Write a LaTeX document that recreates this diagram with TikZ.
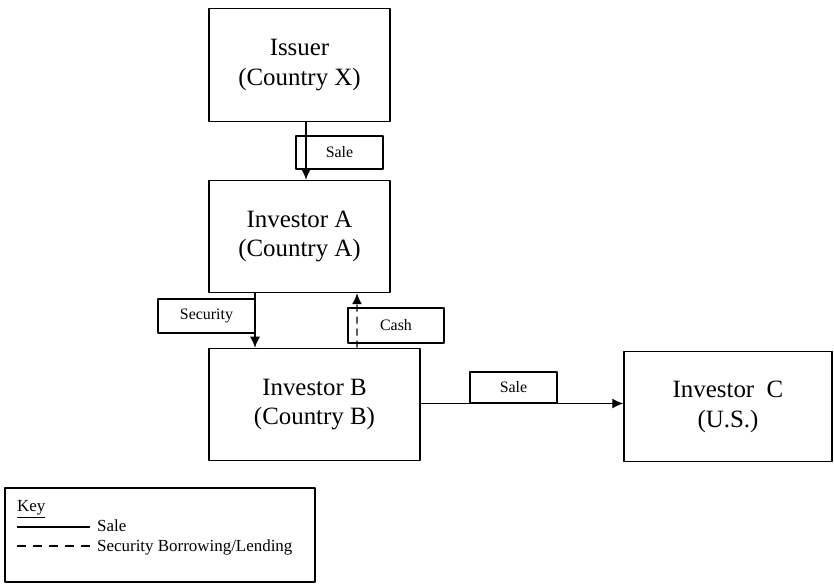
\documentclass[tikz,border=0pt]{standalone}
\usepackage{fontspec}
\setmainfont{Liberation Serif}
\usetikzlibrary{positioning,arrows.meta}

\begin{document}
\begin{tikzpicture}[>={Latex[length=11bp,width=10bp]},line join=bevel,
  party/.style={draw,line width=1.5bp,align=center,font=\fontsize{25}{30}\selectfont,inner sep=0pt},
  flowtag/.style={draw,line width=1.5bp,font=\fontsize{16}{18}\selectfont,inner sep=0pt},
  flow/.style={black,line width=1.3bp,->}]
\useasboundingbox (0bp,0bp) rectangle (834bp,586bp);
%%
\node (issuer) at (299.5bp,521bp) [party,minimum width=181bp,minimum height=113bp] {Issuer\\(Country X)};
  \node (inv_a) at (299.5bp,349.5bp) [party,minimum width=181bp,minimum height=112bp] {Investor A\\(Country A)};
  \node (inv_b) at (314.5bp,181.5bp) [party,minimum width=211bp,minimum height=112bp] {Investor B\\(Country B)};
  \node (inv_c) at (728bp,179.5bp) [party,minimum width=208bp,minimum height=110bp] {Investor\ \ C\\(U.S.)};
  \node (tag_sale1) at (339.5bp,433.5bp) [flowtag,minimum width=87bp,minimum height=33bp] {Sale};
  \node (tag_sec) at (206.5bp,270bp) [flowtag,minimum width=97bp,minimum height=34bp] {Security};
  \node (tag_cash) at (396bp,260.5bp) [flowtag,minimum width=96bp,minimum height=35bp] {Cash};
  \node (tag_sale2) at (513.5bp,198.5bp) [flowtag,minimum width=87bp,minimum height=31bp] {Sale};
  \draw [flow] ([xshift=6.5bp]issuer.south) -- ([xshift=6.5bp]inv_a.north);
  \draw [flow] ([xshift=-44.5bp]inv_a.south) -- ([xshift=-59.5bp]inv_b.north);
  \draw [flow,dash pattern=on 7bp off 5bp] ([xshift=42.5bp]inv_b.north) -- ([xshift=57.5bp]inv_a.south);
  \draw [flow] ([yshift=1bp]inv_b.east) -- ([yshift=3bp]inv_c.west);
%% key
\node (key) at (160bp,51bp) [draw,line width=1.5bp,minimum width=310bp,minimum height=94bp] {};
  \node (key_title) at (17bp,74bp) [anchor=base west,inner sep=0pt,font=\fontsize{17}{19}\selectfont] {\underline{Key}};
  \coordinate (key_s1) at (17bp,59bp);
  \coordinate (key_s2) at (90bp,59bp);
  \coordinate (key_d1) at (17bp,40bp);
  \coordinate (key_d2) at (90bp,40bp);
  \draw [line width=1.6bp] (key_s1) -- (key_s2);
  \draw [line width=1.5bp,dash pattern=on 9bp off 7bp] (key_d1) -- (key_d2);
  \node (key_sale) at (97bp,54bp) [anchor=base west,inner sep=0pt,font=\fontsize{17}{19}\selectfont] {Sale};
  \node (key_lend) at (97bp,35bp) [anchor=base west,inner sep=0pt,font=\fontsize{17}{19}\selectfont] {Security Borrowing/Lending};
%
\end{tikzpicture}
\end{document}
